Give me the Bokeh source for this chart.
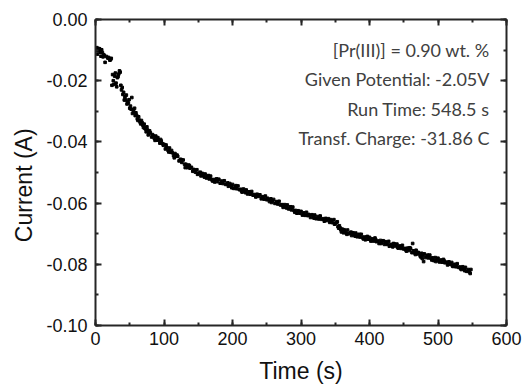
from bokeh.plotting import figure
from bokeh.models import (LinearAxis, SingleIntervalTicker, NumeralTickFormatter,
                          CustomJSTickFormatter, Range1d, Label)
from bokeh.embed import file_html
from bokeh.resources import INLINE

# ---- data ----
time_main = [0, 2, 4, 6, 8, 10, 12, 14, 16, 18, 20, 22, 24, 26, 28, 30, 32, 34, 36, 38,
             40, 42, 44, 46, 48, 50, 52, 54, 56, 58, 60, 62, 64, 66, 68, 70, 72, 74, 76, 78,
             80, 82, 84, 86, 88, 90, 92, 94, 96, 98, 100, 102, 104, 106, 108, 110, 112, 114, 116, 118,
             120, 122, 124, 126, 128, 130, 132, 134, 136, 138, 140, 142, 144, 146, 148, 150, 152, 154, 156, 158,
             160, 162, 164, 166, 168, 170, 172, 174, 176, 178, 180, 182, 184, 186, 188, 190, 192, 194, 196, 198,
             200, 202, 204, 206, 208, 210, 212, 214, 216, 218, 220, 222, 224, 226, 228, 230, 232, 234, 236, 238,
             240, 242, 244, 246, 248, 250, 252, 254, 256, 258, 260, 262, 264, 266, 268, 270, 272, 274, 276, 278,
             280, 282, 284, 286, 288, 290, 292, 294, 296, 298, 300, 302, 304, 306, 308, 310, 312, 314, 316, 318,
             320, 322, 324, 326, 328, 330, 332, 334, 336, 338, 340, 342, 344, 346, 348, 350, 352, 354, 356, 358,
             360, 362, 364, 366, 368, 370, 372, 374, 376, 378, 380, 382, 384, 386, 388, 390, 392, 394, 396, 398,
             400, 402, 404, 406, 408, 410, 412, 414, 416, 418, 420, 422, 424, 426, 428, 430, 432, 434, 436, 438,
             440, 442, 444, 446, 448, 450, 452, 454, 456, 458, 460, 462, 464, 466, 468, 470, 472, 474, 476, 478,
             480, 482, 484, 486, 488, 490, 492, 494, 496, 498, 500, 502, 504, 506, 508, 510, 512, 514, 516, 518,
             520, 522, 524, 526, 528, 530, 532, 534, 536, 538, 540, 542, 544, 546, 548]

current_main = [-0.0098, -0.0092, -0.0101, -0.0096, -0.0120, -0.0108, -0.0115, -0.0140, -0.0121, -0.0126,
                -0.0128, -0.0131, -0.0215, -0.0200, -0.0185, -0.0208, -0.0190, -0.0178, -0.0172, -0.0230,
                -0.0245, -0.0263, -0.0263, -0.0276, -0.0273, -0.0290, -0.0293, -0.0307, -0.0302, -0.0314,
                -0.0313, -0.0330, -0.0329, -0.0341, -0.0337, -0.0353, -0.0355, -0.0367, -0.0361, -0.0372,
                -0.0370, -0.0384, -0.0379, -0.0389, -0.0381, -0.0394, -0.0394, -0.0404, -0.0397, -0.0406,
                -0.0408, -0.0423, -0.0418, -0.0428, -0.0420, -0.0434, -0.0435, -0.0445, -0.0438, -0.0447,
                -0.0447, -0.0462, -0.0457, -0.0467, -0.0459, -0.0473, -0.0473, -0.0484, -0.0476, -0.0486,
                -0.0483, -0.0496, -0.0491, -0.0499, -0.0491, -0.0503, -0.0502, -0.0511, -0.0503, -0.0511,
                -0.0505, -0.0518, -0.0512, -0.0521, -0.0512, -0.0524, -0.0523, -0.0531, -0.0522, -0.0530,
                -0.0522, -0.0535, -0.0528, -0.0536, -0.0527, -0.0539, -0.0537, -0.0545, -0.0536, -0.0544,
                -0.0539, -0.0552, -0.0546, -0.0553, -0.0544, -0.0556, -0.0555, -0.0564, -0.0554, -0.0562,
                -0.0557, -0.0570, -0.0563, -0.0571, -0.0562, -0.0574, -0.0572, -0.0580, -0.0571, -0.0578,
                -0.0573, -0.0586, -0.0579, -0.0587, -0.0577, -0.0589, -0.0588, -0.0595, -0.0586, -0.0593,
                -0.0588, -0.0601, -0.0595, -0.0603, -0.0594, -0.0606, -0.0605, -0.0614, -0.0605, -0.0613,
                -0.0606, -0.0619, -0.0613, -0.0622, -0.0613, -0.0625, -0.0624, -0.0633, -0.0625, -0.0633,
                -0.0627, -0.0639, -0.0632, -0.0640, -0.0630, -0.0641, -0.0639, -0.0647, -0.0638, -0.0645,
                -0.0639, -0.0651, -0.0644, -0.0652, -0.0642, -0.0653, -0.0651, -0.0659, -0.0650, -0.0657,
                -0.0651, -0.0663, -0.0657, -0.0664, -0.0654, -0.0666, -0.0664, -0.0677, -0.0674, -0.0687,
                -0.0685, -0.0697, -0.0691, -0.0698, -0.0688, -0.0700, -0.0698, -0.0706, -0.0697, -0.0704,
                -0.0698, -0.0710, -0.0704, -0.0711, -0.0702, -0.0713, -0.0711, -0.0720, -0.0710, -0.0718,
                -0.0712, -0.0724, -0.0717, -0.0724, -0.0714, -0.0726, -0.0724, -0.0732, -0.0722, -0.0729,
                -0.0723, -0.0735, -0.0728, -0.0735, -0.0725, -0.0737, -0.0735, -0.0743, -0.0733, -0.0740,
                -0.0734, -0.0747, -0.0740, -0.0748, -0.0738, -0.0750, -0.0748, -0.0757, -0.0747, -0.0755,
                -0.0749, -0.0762, -0.0756, -0.0763, -0.0754, -0.0766, -0.0764, -0.0773, -0.0764, -0.0771,
                -0.0766, -0.0778, -0.0772, -0.0779, -0.0770, -0.0781, -0.0779, -0.0788, -0.0778, -0.0786,
                -0.0780, -0.0792, -0.0786, -0.0793, -0.0784, -0.0795, -0.0793, -0.0802, -0.0792, -0.0800,
                -0.0794, -0.0807, -0.0800, -0.0808, -0.0798, -0.0810, -0.0809, -0.0817, -0.0808, -0.0816,
                -0.0810, -0.0823, -0.0817, -0.0825, -0.0817]

time_extra = [1, 3, 5, 7, 9, 11, 13, 19, 21, 23, 25, 27, 29, 31, 33, 35, 37, 39, 41, 43,
              45, 47, 49, 51, 53, 55, 57, 59, 61, 63, 65, 67, 69, 71, 73, 75, 77, 79, 83, 87,
              91, 95, 99, 103, 107, 111, 115, 119, 125, 131, 137, 143, 149, 153, 159, 165, 171, 177, 185, 193,
              199, 205, 213, 219, 227, 235, 243, 251, 257, 265, 273, 279, 285, 291, 297, 303, 311, 319, 327, 335,
              343, 349, 353, 355, 357, 359, 363, 367, 373, 379, 385, 391, 397, 403, 409, 417, 423, 429, 435, 441,
              447, 453, 459, 463, 467, 471, 475, 477, 479, 485, 491, 497, 503, 509, 515, 521, 527, 533, 539, 545,
              547]

current_extra = [-0.0101, -0.0113, -0.0095, -0.0107, -0.0099, -0.0122, -0.0118, -0.0124, -0.0133, -0.0127,
                 -0.0180, -0.0212, -0.0175, -0.0220, -0.0186, -0.0168, -0.0215, -0.0222, -0.0238, -0.0253,
                 -0.0247, -0.0268, -0.0262, -0.0283, -0.0255, -0.0296, -0.0290, -0.0305, -0.0325, -0.0318,
                 -0.0335, -0.0330, -0.0345, -0.0342, -0.0358, -0.0351, -0.0377, -0.0364, -0.0376, -0.0395,
                 -0.0386, -0.0392, -0.0411, -0.0410, -0.0433, -0.0428, -0.0452, -0.0443, -0.0458, -0.0484,
                 -0.0477, -0.0490, -0.0506, -0.0499, -0.0515, -0.0510, -0.0528, -0.0521, -0.0533, -0.0534,
                 -0.0550, -0.0543, -0.0560, -0.0566, -0.0565, -0.0577, -0.0583, -0.0584, -0.0598, -0.0598,
                 -0.0608, -0.0616, -0.0612, -0.0630, -0.0629, -0.0638, -0.0637, -0.0649, -0.0647, -0.0656,
                 -0.0654, -0.0669, -0.0661, -0.0682, -0.0681, -0.0694, -0.0687, -0.0702, -0.0695, -0.0708,
                 -0.0702, -0.0717, -0.0709, -0.0722, -0.0719, -0.0732, -0.0726, -0.0741, -0.0732, -0.0745,
                 -0.0744, -0.0753, -0.0746, -0.0732, -0.0768, -0.0761, -0.0776, -0.0781, -0.0791, -0.0770,
                 -0.0786, -0.0791, -0.0791, -0.0789, -0.0798, -0.0805, -0.0806, -0.0814, -0.0821, -0.0821,
                 -0.0830]

x_tick_step = 100
y_tick_step = 0.02

annotations = ["[Pr(III)] = 0.90 wt. %",
               "Given Potential: -2.05V",
               "Run Time: 548.5 s",
               "Transf. Charge: -31.86 C"]

# ---- figure ----
AX = "#262626"
TXT = "#111111"
p = figure(frame_width=411, frame_height=306, output_backend="svg", toolbar_location=None,
           x_range=Range1d(0, 600), y_range=Range1d(-0.10, 0.00),
           x_axis_location=None, y_axis_location=None,
           min_border_left=95, min_border_right=17, min_border_top=19, min_border_bottom=58)
p.grid.visible = False
p.outline_line_color = None
p.background_fill_color = "white"
p.border_fill_color = "white"

def style_axis(ax, labels=True):
    ax.axis_line_color = AX
    ax.axis_line_width = 2
    ax.major_tick_line_color = AX
    ax.minor_tick_line_color = AX
    ax.major_tick_line_width = 2
    ax.minor_tick_line_width = 2
    ax.major_tick_in = 6
    ax.major_tick_out = 0
    ax.minor_tick_in = 3
    ax.minor_tick_out = 0
    ax.major_label_text_font = "Liberation Sans"
    ax.major_label_text_font_size = "18px"
    ax.major_label_text_color = TXT
    ax.axis_label_text_font = "Liberation Sans"
    ax.axis_label_text_font_size = "23px"
    ax.axis_label_text_font_style = "normal"
    ax.axis_label_text_color = TXT
    if not labels:
        ax.formatter = CustomJSTickFormatter(code="return ''")
        ax.major_label_standoff = 0

xb = LinearAxis(ticker=SingleIntervalTicker(interval=x_tick_step, num_minor_ticks=2),
                axis_label="Time (s)")
style_axis(xb)
xb.major_label_standoff = 6
xb.axis_label_standoff = 10
p.add_layout(xb, "below")

# trailing no-break spaces push the visible title a little below the frame centre, as in the reference
yl = LinearAxis(ticker=SingleIntervalTicker(interval=y_tick_step, num_minor_ticks=2),
                formatter=NumeralTickFormatter(format="0.00"),
                axis_label="Current (A)\u00a0\u00a0\u00a0\u00a0")
style_axis(yl)
yl.major_label_standoff = 8
yl.axis_label_standoff = 6
p.add_layout(yl, "left")

xtp = LinearAxis(ticker=SingleIntervalTicker(interval=x_tick_step, num_minor_ticks=2))
style_axis(xtp, labels=False)
p.add_layout(xtp, "above")

yr = LinearAxis(ticker=SingleIntervalTicker(interval=y_tick_step, num_minor_ticks=2))
style_axis(yr, labels=False)
p.add_layout(yr, "right")

p.scatter(time_main, current_main, marker="square", size=2.6, color="black")
p.scatter(time_extra, current_extra, marker="square", size=2.6, color="black")

# annotation block, right-aligned near the top-right of the frame
for i, txt in enumerate(annotations):
    p.add_layout(Label(x=394, y=276 - 29.6 * i, x_units="screen", y_units="screen",
                       text=txt, text_align="right", text_baseline="middle",
                       text_font="Lato", text_font_size="18px", text_color="#404040"))

open("out.html", "w").write(file_html(p, INLINE))
